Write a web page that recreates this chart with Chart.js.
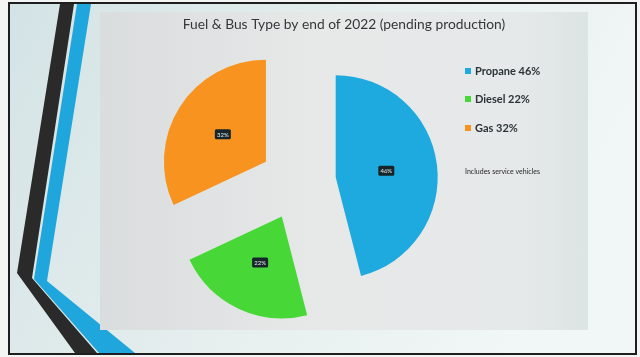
<!DOCTYPE html>
<html>
<head>
<meta charset="UTF-8">
<title>Fuel & Bus Type</title>
<script src="https://cdn.jsdelivr.net/npm/chart.js@4.4.1/dist/chart.umd.min.js"></script>
<style>
html,body{margin:0;padding:0;background:#f3f5f5;}
#wrap{position:relative;width:640px;height:357px;overflow:hidden;}
#deco{position:absolute;left:0;top:0;}
#fuelChart{position:absolute;left:0;top:0;}
</style>
</head>
<body>
<div id="wrap">
<!-- slide background: frame, side stripes, grey chart panel -->
<svg id="deco" width="640" height="357">
  <defs>
    <linearGradient id="slideBg" x1="0" y1="0" x2="1" y2="0.3">
      <stop offset="0" stop-color="#d3e3e5"/>
      <stop offset="0.55" stop-color="#e6eeee"/>
      <stop offset="1" stop-color="#f1f6f6"/>
    </linearGradient>
    <linearGradient id="panelBg" x1="0" y1="0" x2="1" y2="0">
      <stop offset="0" stop-color="#dadddd"/>
      <stop offset="0.45" stop-color="#e7e9e9"/>
      <stop offset="0.85" stop-color="#e6e9e9"/>
      <stop offset="1" stop-color="#dde4e4"/>
    </linearGradient>
  </defs>
  <rect x="9" y="3" width="627" height="351" fill="url(#slideBg)" stroke="#1e1e1e" stroke-width="2"/>
  <polygon points="60,4 74,4 32,278 97,353 75,353 17,273" fill="#2a2a2a"/>
  <polygon points="77,4 91,4 47,281 135,353 99,353 34,279" fill="#1fa6dc"/>
  <rect x="100" y="12" width="488" height="318" fill="url(#panelBg)"/>
</svg>
<canvas id="fuelChart" width="640" height="357"></canvas>
</div>

<script>
// fuel mix by end of 2022
const fuelLabels = ['Propane', 'Diesel', 'Gas'];
const fuelShares = [46, 22, 32];
const fuelColors = ['#1eaade', '#47d838', '#f7931e'];
const chartTitle = 'Fuel & Bus Type by end of 2022 (pending production)';
const noteText = 'Includes service vehicles';

const FONT = 'Lato, "Open Sans", sans-serif';
const EXPLODE = 38; // how far each slice is pulled out

function pushOut(arc){
    const mid = (arc.startAngle + arc.endAngle) / 2;
    return {dx: Math.cos(mid) * EXPLODE, dy: Math.sin(mid) * EXPLODE};
}

// draw slices pulled apart without growing their radius
const explodePlugin = {
    id: 'explode',
    beforeDatasetDraw(chart, args){
        const ctx = chart.ctx;
        args.meta.data.forEach(arc=>{
            const p = pushOut(arc);
            ctx.save();
            ctx.translate(p.dx, p.dy);
            arc.draw(ctx);
            ctx.restore();
        });
        return false;
    }
};

// dark value tags, title, legend and footnote
const textPlugin = {
    id: 'slideText',
    afterDraw(chart){
        const ctx = chart.ctx;
        ctx.save();

        // value tags in the middle of each slice
        chart.getDatasetMeta(0).data.forEach((arc,i)=>{
            const c = arc.getCenterPoint();
            const p = pushOut(arc);
            const x = c.x + p.dx, y = c.y + p.dy;
            ctx.fillStyle = '#15252a';
            ctx.beginPath();
            ctx.roundRect(x-8, y-5, 16, 10, 1.5);
            ctx.fill();
            ctx.fillStyle = '#e8eeee';
            ctx.font = '6px ' + FONT;
            ctx.textAlign = 'center';
            ctx.textBaseline = 'middle';
            ctx.fillText(fuelShares[i] + '%', x, y+0.5);
        });

        // title
        ctx.fillStyle = '#353839';
        ctx.font = '13.8px ' + FONT;
        ctx.textAlign = 'center';
        ctx.textBaseline = 'middle';
        ctx.fillText(chartTitle, 344, 25);

        // legend
        const rows = [71, 99, 128];
        fuelLabels.forEach((lab,i)=>{
            ctx.fillStyle = fuelColors[i];
            ctx.fillRect(465, rows[i]-3, 6, 6);
            ctx.fillStyle = '#2b3336';
            ctx.font = 'bold 11px ' + FONT;
            ctx.textAlign = 'left';
            ctx.fillText(lab + ' ' + fuelShares[i] + '%', 475, rows[i]);
        });

        // footnote
        ctx.fillStyle = '#26292a';
        ctx.font = '7px ' + FONT;
        ctx.fillText(noteText, 465, 172);
        ctx.restore();
    }
};

new Chart(document.getElementById('fuelChart'), {
    type: 'pie',
    data: {
        labels: fuelLabels,
        datasets: [{
            data: fuelShares,
            backgroundColor: fuelColors,
            borderWidth: 0,
            clip: false
        }]
    },
    options: {
        responsive: false,
        animation: false,
        layout: {padding: {left:196, right:240, top:80, bottom:73}},
        plugins: {
            legend: {display:false},
            tooltip: {enabled:false}
        }
    },
    plugins: [explodePlugin, textPlugin]
});
</script>
</body>
</html>
